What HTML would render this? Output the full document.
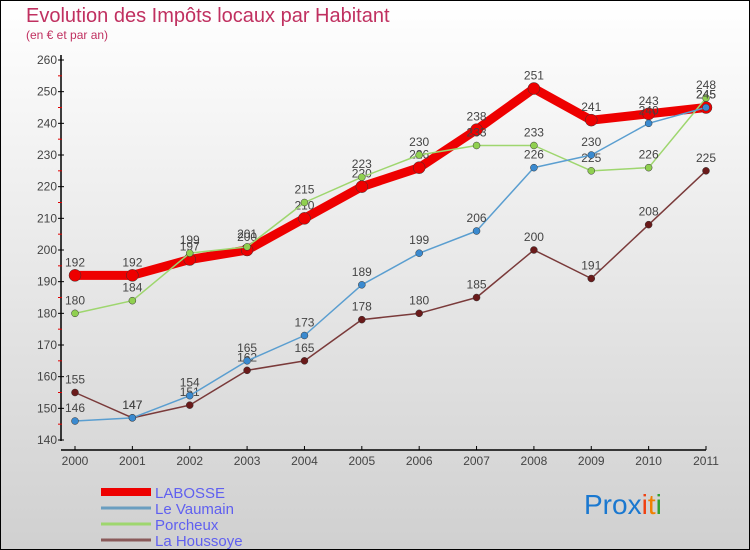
<!DOCTYPE html>
<html><head><meta charset="utf-8"><style>
body{margin:0;width:750px;height:550px;overflow:hidden;font-family:"Liberation Sans",sans-serif}
#wrap{position:absolute;left:0;top:0;width:748px;height:548px;border:1px solid #000;background:linear-gradient(#ffffff,#d0d0d0)}
</style></head><body>
<div id="wrap">
<svg id="chart" width="750" height="550" style="position:absolute;left:-1px;top:-1px">
<text x="26" y="22" font-size="20" fill="#c03060">Evolution des Impôts locaux par Habitant</text>
<text x="26" y="39" font-size="12" fill="#c03060">(en € et par an)</text>
<g id="axes"></g><g id="series"></g><g id="legend"></g>
<text x="584" y="514" font-size="28"><tspan fill="#1a78d0">Prox</tspan><tspan fill="#f04010">i</tspan><tspan fill="#f08000">t</tspan><tspan fill="#30a030">i</tspan></text>
</svg></div>
<script>
const years=[2000,2001,2002,2003,2004,2005,2006,2007,2008,2009,2010,2011];
const yTicks=[140,150,160,170,180,190,200,210,220,230,240,250,260];
const labosse=[192,192,197,200,210,220,226,238,251,241,243,245];
const vaumain=[146,147,154,165,173,189,199,206,226,230,240,245];
const porcheux=[180,184,199,201,215,223,230,233,233,225,226,248];
const houssoye=[155,147,151,162,165,178,180,185,200,191,208,225];
const NS="http://www.w3.org/2000/svg";
const xS=i=>75+i*(706-75)/11;
const yS=v=>440-(v-140)*(380/120);
function mk(t,a,p){const e=document.createElementNS(NS,t);for(const k in a)e.setAttribute(k,a[k]);p.appendChild(e);return e;}
const ax=document.getElementById('axes');
let l=mk('line',{x1:61,y1:55,x2:61,y2:441,stroke:'#000','stroke-width':1.5},ax);

l=mk('line',{x1:61,y1:450,x2:706,y2:450,stroke:'#000','stroke-width':1.5},ax);

yTicks.forEach((v,i)=>{mk('line',{x1:58,y1:yS(v),x2:64,y2:yS(v),stroke:'#000'},ax);
 if(i<yTicks.length-1)mk('line',{x1:58,y1:yS(v+5),x2:62,y2:yS(v+5),stroke:'#e00000'},ax);
 const t=mk('text',{x:57,y:yS(v)+4,'text-anchor':'end','font-size':12,fill:'#444'},ax);t.textContent=v;
 });
years.forEach((y,i)=>{mk('line',{x1:xS(i),y1:446,x2:xS(i),y2:450,stroke:'#000'},ax);
 const t=mk('text',{x:xS(i),y:465,'text-anchor':'middle','font-size':12,fill:'#444'},ax);t.textContent=y;
 });
const sg=document.getElementById('series');
function draw(vals,color,w,r,dot,name){
 const g=mk('g',{},sg);
 const p=mk('polyline',{points:vals.map((v,i)=>xS(i)+','+yS(v)).join(' '),fill:'none',stroke:color,'stroke-width':w,'stroke-linejoin':'round'},g);
 
 vals.forEach((v,i)=>{const c=mk('circle',{cx:xS(i),cy:yS(v),r:r,fill:dot,stroke:'#333','stroke-width':0.5},g);
  
  const t=mk('text',{x:xS(i),y:yS(v)-9,'text-anchor':'middle','font-size':12,fill:'#444'},g);t.textContent=v;
  });
}
draw(labosse,'#ee0000',9,6,'#ee0000','labosse');
draw(houssoye,'#7a3a3a',1.5,3.5,'#6a1a1a','la-houssoye');
draw(porcheux,'#9ed66e',1.5,3.5,'#90d050','porcheux');
draw(vaumain,'#5a9ed0',1.5,3.5,'#3a8ad0','le-vaumain');
const lg=document.getElementById('legend');
[['LABOSSE','#ee0000',8],['Le Vaumain','#6a9ec0',3],['Porcheux','#9ed66e',3],['La Houssoye','#8a5a5a',3]].forEach((d,i)=>{
 const y=492+i*16;
 const g=mk('g',{},lg);
 mk('line',{x1:101,y1:y,x2:151,y2:y,stroke:d[1],'stroke-width':d[2]},g);
 const t=mk('text',{x:155,y:y+6,'font-size':15,fill:'#6060f0'},g);t.textContent=d[0];
});
</script>
</body></html>
